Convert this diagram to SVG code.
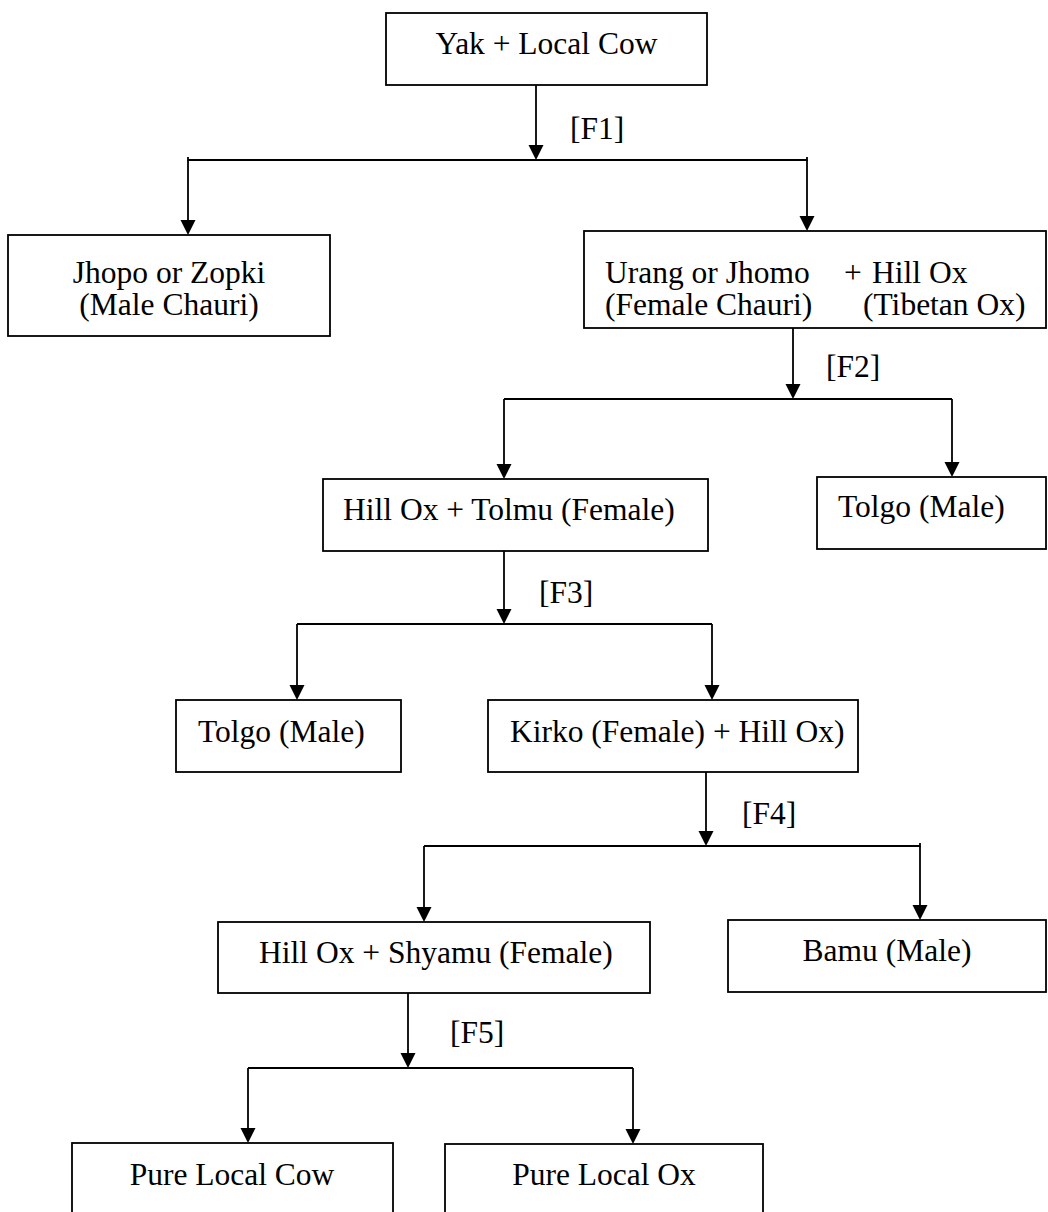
<svg xmlns="http://www.w3.org/2000/svg" width="1048" height="1212" viewBox="0 0 1048 1212">
<defs>
<marker id="ah" markerUnits="userSpaceOnUse" markerWidth="15" markerHeight="16" refX="7.5" refY="15" orient="auto-start-reverse" viewBox="0 0 15 16">
<path d="M0,0 L15,0 L7.5,15 Z" fill="#000"/>
</marker>
<style>
.box{fill:#fff;stroke:#000;stroke-width:1.8}
.t{font-family:"Liberation Serif","Times New Roman",serif;font-size:31.5px;fill:#000}
.c{text-anchor:middle}
.ln{fill:none;stroke:#000;stroke-width:1.8}
.ar{fill:none;stroke:#000;stroke-width:1.8}
</style>
</defs>
<rect width="1048" height="1212" fill="#fff"/>
<g id="connectors">
<line class="ln" x1="536" y1="85" x2="536" y2="145"/><path d="M528.5,145 L543.5,145 L536,160 Z"/>
<polyline class="ln" points="188,157 188,160 807,160 807,157"/>
<line class="ln" x1="188" y1="160" x2="188" y2="220"/><path d="M180.5,220 L195.5,220 L188,235 Z"/>
<line class="ln" x1="807" y1="160" x2="807" y2="216"/><path d="M799.5,216 L814.5,216 L807,231 Z"/>
<line class="ln" x1="793" y1="328" x2="793" y2="384"/><path d="M785.5,384 L800.5,384 L793,399 Z"/>
<line class="ln" x1="504" y1="399" x2="952" y2="399"/>
<line class="ln" x1="504" y1="399" x2="504" y2="464"/><path d="M496.5,464 L511.5,464 L504,479 Z"/>
<line class="ln" x1="952" y1="399" x2="952" y2="462"/><path d="M944.5,462 L959.5,462 L952,477 Z"/>
<line class="ln" x1="504" y1="551" x2="504" y2="609"/><path d="M496.5,609 L511.5,609 L504,624 Z"/>
<line class="ln" x1="297" y1="624" x2="712" y2="624"/>
<line class="ln" x1="297" y1="624" x2="297" y2="685"/><path d="M289.5,685 L304.5,685 L297,700 Z"/>
<line class="ln" x1="712" y1="624" x2="712" y2="685"/><path d="M704.5,685 L719.5,685 L712,700 Z"/>
<line class="ln" x1="706" y1="772" x2="706" y2="831"/><path d="M698.5,831 L713.5,831 L706,846 Z"/>
<polyline class="ln" points="424,846 920,846 920,843"/>
<line class="ln" x1="424" y1="846" x2="424" y2="907"/><path d="M416.5,907 L431.5,907 L424,922 Z"/>
<line class="ln" x1="920" y1="846" x2="920" y2="905"/><path d="M912.5,905 L927.5,905 L920,920 Z"/>
<line class="ln" x1="408" y1="993" x2="408" y2="1053"/><path d="M400.5,1053 L415.5,1053 L408,1068 Z"/>
<line class="ln" x1="248" y1="1068" x2="633" y2="1068"/>
<line class="ln" x1="248" y1="1068" x2="248" y2="1128"/><path d="M240.5,1128 L255.5,1128 L248,1143 Z"/>
<line class="ln" x1="633" y1="1068" x2="633" y2="1129"/><path d="M625.5,1129 L640.5,1129 L633,1144 Z"/>
<text class="t" x="570" y="139">[F1]</text>
<text class="t" x="826" y="377">[F2]</text>
<text class="t" x="539" y="603">[F3]</text>
<text class="t" x="742" y="824">[F4]</text>
<text class="t" x="450" y="1043">[F5]</text>
</g>
<g id="n_yak"><rect class="box" x="386" y="13" width="321" height="72"/><text class="t c" x="546.5" y="54">Yak + Local Cow</text></g>
<g id="n_jhopo"><rect class="box" x="8" y="235" width="322" height="101"/><text class="t c" x="169" y="283">Jhopo or Zopki</text><text class="t c" x="169" y="315">(Male Chauri)</text></g>
<g id="n_urang"><rect class="box" x="584" y="231" width="462" height="97"/><text class="t" x="605" y="283">Urang or Jhomo</text><text class="t" x="844" y="283">+</text><text class="t" x="872" y="283">Hill Ox</text><text class="t" x="605" y="315">(Female Chauri)</text><text class="t" x="863" y="315">(Tibetan Ox)</text></g>
<g id="n_tolmu"><rect class="box" x="323" y="479" width="385" height="72"/><text class="t" x="343" y="520">Hill Ox + Tolmu (Female)</text></g>
<g id="n_tolgo1"><rect class="box" x="817" y="477" width="229" height="72"/><text class="t" x="838" y="517">Tolgo (Male)</text></g>
<g id="n_tolgo2"><rect class="box" x="176" y="700" width="225" height="72"/><text class="t" x="198" y="742">Tolgo (Male)</text></g>
<g id="n_kirko"><rect class="box" x="488" y="700" width="370" height="72"/><text class="t" x="510" y="742">Kirko (Female) + Hill Ox)</text></g>
<g id="n_shyamu"><rect class="box" x="218" y="922" width="432" height="71"/><text class="t" x="259" y="963">Hill Ox + Shyamu (Female)</text></g>
<g id="n_bamu"><rect class="box" x="728" y="920" width="318" height="72"/><text class="t c" x="887" y="961">Bamu (Male)</text></g>
<g id="n_cow"><rect class="box" x="72" y="1143" width="321" height="80"/><text class="t c" x="232" y="1185">Pure Local Cow</text></g>
<g id="n_ox"><rect class="box" x="445" y="1144" width="318" height="80"/><text class="t c" x="604" y="1185">Pure Local Ox</text></g>
</svg>
